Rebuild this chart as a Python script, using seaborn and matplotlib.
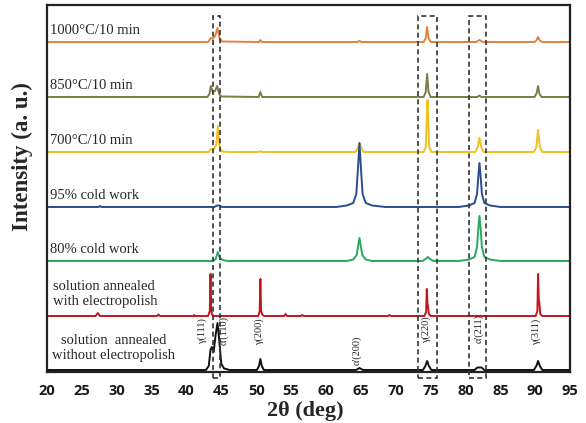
import numpy as np
import pandas as pd
import matplotlib
matplotlib.use("Agg")
import matplotlib.pyplot as plt
import seaborn as sns
from matplotlib.patches import Rectangle

# ── Patterns (2theta in deg, counts above own baseline) ──
tt_1000 = [20, 43.1, 43.5, 43.8, 44.1, 44.45, 44.75, 45.1, 50.4, 50.6, 50.8, 64.5, 64.8, 65.1,
           74.0, 74.3, 74.5, 74.7, 75.0, 81.5, 82.0, 82.5, 89.9, 90.2, 90.4, 90.65, 91.0, 95]
I_1000 = [0, 0, 4, 3, 6, 14, 4, 0.5, 0, 2, 0, 0, 1, 0,
          0, 4, 15, 4, 0, 0, 2, 0, 0, 2, 5, 1.5, 0, 0]

tt_850 = [20, 43.0, 43.3, 43.5, 43.8, 44.1, 44.4, 44.7, 45.0, 50.35, 50.6, 50.85,
          74.0, 74.3, 74.5, 74.7, 75.0, 81.7, 82.0, 82.3, 89.9, 90.2, 90.4, 90.6, 90.9, 95]
I_850 = [0, 0, 3, 11, 5, 6, 11, 3, 0.5, 0, 5, 0,
         0, 5, 23, 5, 0, 0, 1.5, 0, 0, 4, 11, 3, 0, 0]

tt_700 = [20, 43.2, 43.5, 43.9, 44.3, 44.5, 44.7, 44.9, 45.2, 45.8, 50.4, 50.6, 50.8,
          64.2, 64.55, 64.8, 65.05, 65.4, 74.0, 74.3, 74.42, 74.55, 74.68, 74.8, 75.1,
          81.4, 81.75, 82.0, 82.25, 82.6, 89.8, 90.15, 90.4, 90.65, 91.0, 95]
I_700 = [0, 0, 3, 2, 8, 26, 8, 2, 0.5, 0, 0, 1, 0,
         0, 4, 9, 4, 0, 0, 5, 28, 52, 28, 5, 0,
         0, 5, 14, 5, 0, 0, 5, 22, 5, 0, 0]

tt_95cw = [20, 27.4, 27.6, 27.8, 44.0, 44.4, 44.7, 45.1,
           61.5, 63.0, 63.9, 64.35, 64.6, 64.8, 65.0, 65.25, 65.7, 66.6, 68.5,
           79.0, 80.5, 81.3, 81.65, 81.85, 82.0, 82.15, 82.35, 82.7, 83.5, 85.0, 95]
I_95cw = [0, 0, 1, 0, 0, 1.5, 1.5, 0,
          0, 1.5, 4, 13, 40, 64, 40, 13, 4, 1.5, 0,
          0, 1.5, 4, 13, 32, 44, 32, 13, 4, 1.5, 0, 0]

tt_80cw = [20, 43.8, 44.2, 44.5, 44.8, 45.2, 45.9, 63.0, 63.9, 64.4, 64.8, 65.2, 65.7, 66.6,
           73.8, 74.3, 74.6, 74.9, 75.4,
           79.0, 80.5, 81.3, 81.65, 81.85, 82.0, 82.15, 82.35, 82.7, 83.5, 85.0, 95]
I_80cw = [0, 0, 2, 9, 3, 1, 0, 0, 1.5, 6, 23, 6, 1.5, 0,
          0, 2, 4, 2, 0,
          0, 1.5, 4, 14, 34, 45, 34, 14, 4, 1.5, 0, 0]

tt_ep = [20, 27.0, 27.3, 27.6, 35.8, 36.0, 36.2, 41.0, 41.1, 41.2,
         43.1, 43.35, 43.45, 43.55, 43.7, 44.0, 50.3, 50.5, 50.6, 50.7, 50.9, 51.2,
         54.0, 54.2, 54.4, 56.4, 56.6, 56.8, 68.9, 69.1, 69.3,
         74.1, 74.35, 74.45, 74.55, 74.62, 74.75, 75.0,
         90.05, 90.3, 90.4, 90.5, 90.58, 90.7, 91.0, 95]
I_ep = [0, 0, 3, 0, 0, 1.5, 0, 0, 1, 0,
        0, 5, 42, 5, 1, 0, 0, 5, 37, 5, 1, 0,
        0, 2, 0, 0, 1, 0, 0, 1, 0,
        0, 4, 27, 12, 10, 2, 0,
        0, 5, 42, 16, 14, 2, 0, 0]

tt_noep = [20, 42.8, 43.2, 43.45, 43.65, 43.9, 44.2, 44.45, 44.7, 45.0, 45.4, 46.2,
           50.1, 50.4, 50.6, 50.8, 51.1, 64.3, 64.8, 65.3, 73.9, 74.25, 74.5, 74.75, 75.1,
           81.3, 81.7, 82.3, 82.7, 89.8, 90.15, 90.4, 90.65, 91.0, 95]
I_noep = [0, 0, 4, 20, 23, 18, 36, 47, 30, 6, 1.5, 0,
          0, 4, 11, 4, 0, 0, 2, 0, 0, 4, 9, 4, 0,
          0, 2.5, 2.5, 0, 0, 4, 9, 4, 0, 0]

samples = ["1000°C/10 min", "850°C/10 min", "700°C/10 min", "95% cold work",
           "80% cold work", "solution annealed\nwith electropolish",
           "solution  annealed\nwithout electropolish"]
offsets = [330, 275, 220, 165, 111, 56, 2]
colors = ["#E5813F", "#7C7B45", "#F1C021", "#2B4C8C", "#2AA85C", "#C4161C", "#111111"]

peak_labels = ["γ(111)", "α'(110)", "γ(200)", "α'(200)", "γ(220)", "α'(211)", "γ(311)"]
peak_label_x = [42.3, 45.4, 50.4, 64.4, 74.4, 81.9, 90.1]
peak_label_y = [28, 27, 27, 7, 29, 29, 27]

# dashed boxes around the (110), (220) and (211) reflections
box_left = [43.86, 73.2, 80.5]
box_right = [44.86, 75.9, 83.0]

patterns = [(tt_1000, I_1000), (tt_850, I_850), (tt_700, I_700), (tt_95cw, I_95cw),
            (tt_80cw, I_80cw), (tt_ep, I_ep), (tt_noep, I_noep)]

frames = []
for name, off, (tt, I) in zip(samples, offsets, patterns):
    frames.append(pd.DataFrame({"two_theta": tt,
                                "intensity": np.array(I, dtype=float) + off,
                                "sample": name}))
df = pd.concat(frames, ignore_index=True)

# ── Plot ─────────────────────────────────────────────────────────────────────
sns.set_style("white")
plt.rcParams["font.family"] = ["Liberation Serif", "DejaVu Serif"]

fig = plt.figure(figsize=(5.86, 4.23), dpi=100)
ax = fig.add_axes([0.080, 0.1206, 0.893, 0.8676])

sns.lineplot(data=df, x="two_theta", y="intensity", hue="sample",
             hue_order=samples, palette=colors, sort=False, estimator=None,
             linewidth=1.4, legend=False, ax=ax)

ax.set_xlim(20, 95)
ax.set_ylim(0, 367)
ax.set_xticks(range(20, 96, 5))
ax.set_yticks([])
ax.tick_params(axis="x", direction="in", length=3, width=1, pad=9)
for lab in ax.get_xticklabels():
    lab.set_fontfamily("Open Sans")
    lab.set_fontweight("bold")
    lab.set_fontsize(10.5)
    lab.set_color("#1a1a1a")
for sp in ax.spines.values():
    sp.set_color("#222222")
    sp.set_linewidth(1.6)

ax.set_xlabel("2θ (deg)", fontsize=16, fontweight="bold")
ax.xaxis.set_label_coords(0.493, -0.078)
ax.set_ylabel("Intensity (a. u.)", fontsize=16.5, fontweight="bold")
ax.yaxis.set_label_coords(-0.027, 0.586)

# sample names
txt_col = "#262626"
for name, off in zip(samples[:5], offsets[:5]):
    ax.text(20.45, off + 11, name, fontsize=10.5, color=txt_col, ha="left", va="center")
ax.text(20.9, 77.5, samples[5], fontsize=10.5, color=txt_col, ha="left", va="center",
        linespacing=1.2)
ax.text(29.6, 23.5, samples[6], fontsize=10.5, color=txt_col, ha="center", va="center",
        multialignment="center", linespacing=1.2)

# phase indexing on the bottom pattern
for lab, x, y in zip(peak_labels, peak_label_x, peak_label_y):
    ax.text(x, y, lab, rotation=90, fontsize=7.5, color=txt_col, ha="center", va="bottom")

for xl, xr in zip(box_left, box_right):
    ax.add_patch(Rectangle((xl, -6), xr - xl, 362, fill=False, edgecolor="#333333",
                           linestyle=(0, (3, 2)), linewidth=1.2, clip_on=False, zorder=5))

fig.savefig("out.png", dpi=100)
